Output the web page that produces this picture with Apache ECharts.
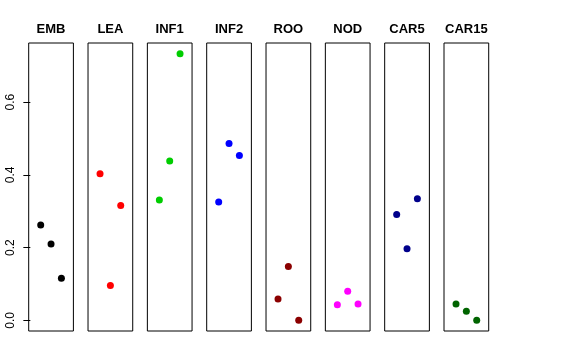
<!DOCTYPE html>
<html><head><meta charset="utf-8">
<script src="https://cdn.jsdelivr.net/npm/echarts@6/dist/echarts.min.js"></script>
<style>html,body{margin:0;padding:0;background:#fff}#c{width:576px;height:360px}</style>
</head><body><div id="c"></div>
<script>
const categories = ["EMB","LEA","INF1","INF2","ROO","NOD","CAR5","CAR15"];
const colors = ["#000000","#FF0000","#00CD00","#0000FF","#8B0000","#FF00FF","#00008B","#006400"];
const xPositions = [1,2,3];
const EMB = [0.262,0.210,0.116];
const LEA = [0.403,0.096,0.316];
const INF1 = [0.331,0.438,0.733];
const INF2 = [0.325,0.486,0.453];
const ROO = [0.059,0.148,0.000];
const NOD = [0.043,0.080,0.045];
const CAR5 = [0.291,0.197,0.334];
const CAR15 = [0.045,0.025,0.000];
const values = [EMB,LEA,INF1,INF2,ROO,NOD,CAR5,CAR15];
const yTicks = [0, 0.2, 0.4, 0.6];
const yTickLabels = ["0.0","0.2","0.4","0.6"];

const yMin = -0.0293, yMax = 0.7624;
const left0 = 28.7, step = 59.33, panelW = 44.7, panelTop = 43, panelH = 288;
const font = "'Liberation Sans', Arial, Helvetica, sans-serif";

const grid = [], xAxis = [], yAxis = [], series = [], graphic = [];
categories.forEach((name, i) => {
  const l = left0 + i * step;
  grid.push({left: l, top: panelTop, width: panelW, height: panelH, show: true, borderColor: '#000', borderWidth: 1, backgroundColor: 'transparent'});
  xAxis.push({gridIndex: i, type: 'value', min: -0.16, max: 4.16, show: false});
  const first = i === 0;
  yAxis.push({
    gridIndex: i, type: 'value', min: yMin, max: yMax, show: first,
    splitLine: {show: false},
    axisLine: {show: false},
    axisTick: first ? {show: true, customValues: yTicks, length: 7, inside: false, lineStyle: {color: '#000', width: 1}} : {show: false},
    axisLabel: first ? {show: true, customValues: yTicks, rotate: 90, margin: 12, fontSize: 12, color: '#000', fontFamily: font,
      formatter: v => { const k = yTicks.findIndex(t => Math.abs(t - v) < 1e-9); return k >= 0 ? yTickLabels[k] : ''; }} : {show: false}
  });
  series.push({
    type: 'scatter', xAxisIndex: i, yAxisIndex: i, symbol: 'circle', symbolSize: 7,
    itemStyle: {color: colors[i], opacity: 1}, silent: true,
    data: xPositions.map((x, k) => [x, values[i][k]])
  });
  graphic.push({type: 'text', x: l + panelW / 2, y: 29, style: {text: name, fill: '#000', font: 'bold 13px ' + font, textAlign: 'center', textVerticalAlign: 'middle'}});
});

const chart = echarts.init(document.getElementById('c'), null, {renderer: 'canvas'});
chart.setOption({animation: false, backgroundColor: '#fff', grid, xAxis, yAxis, series, graphic});
</script></body></html>
